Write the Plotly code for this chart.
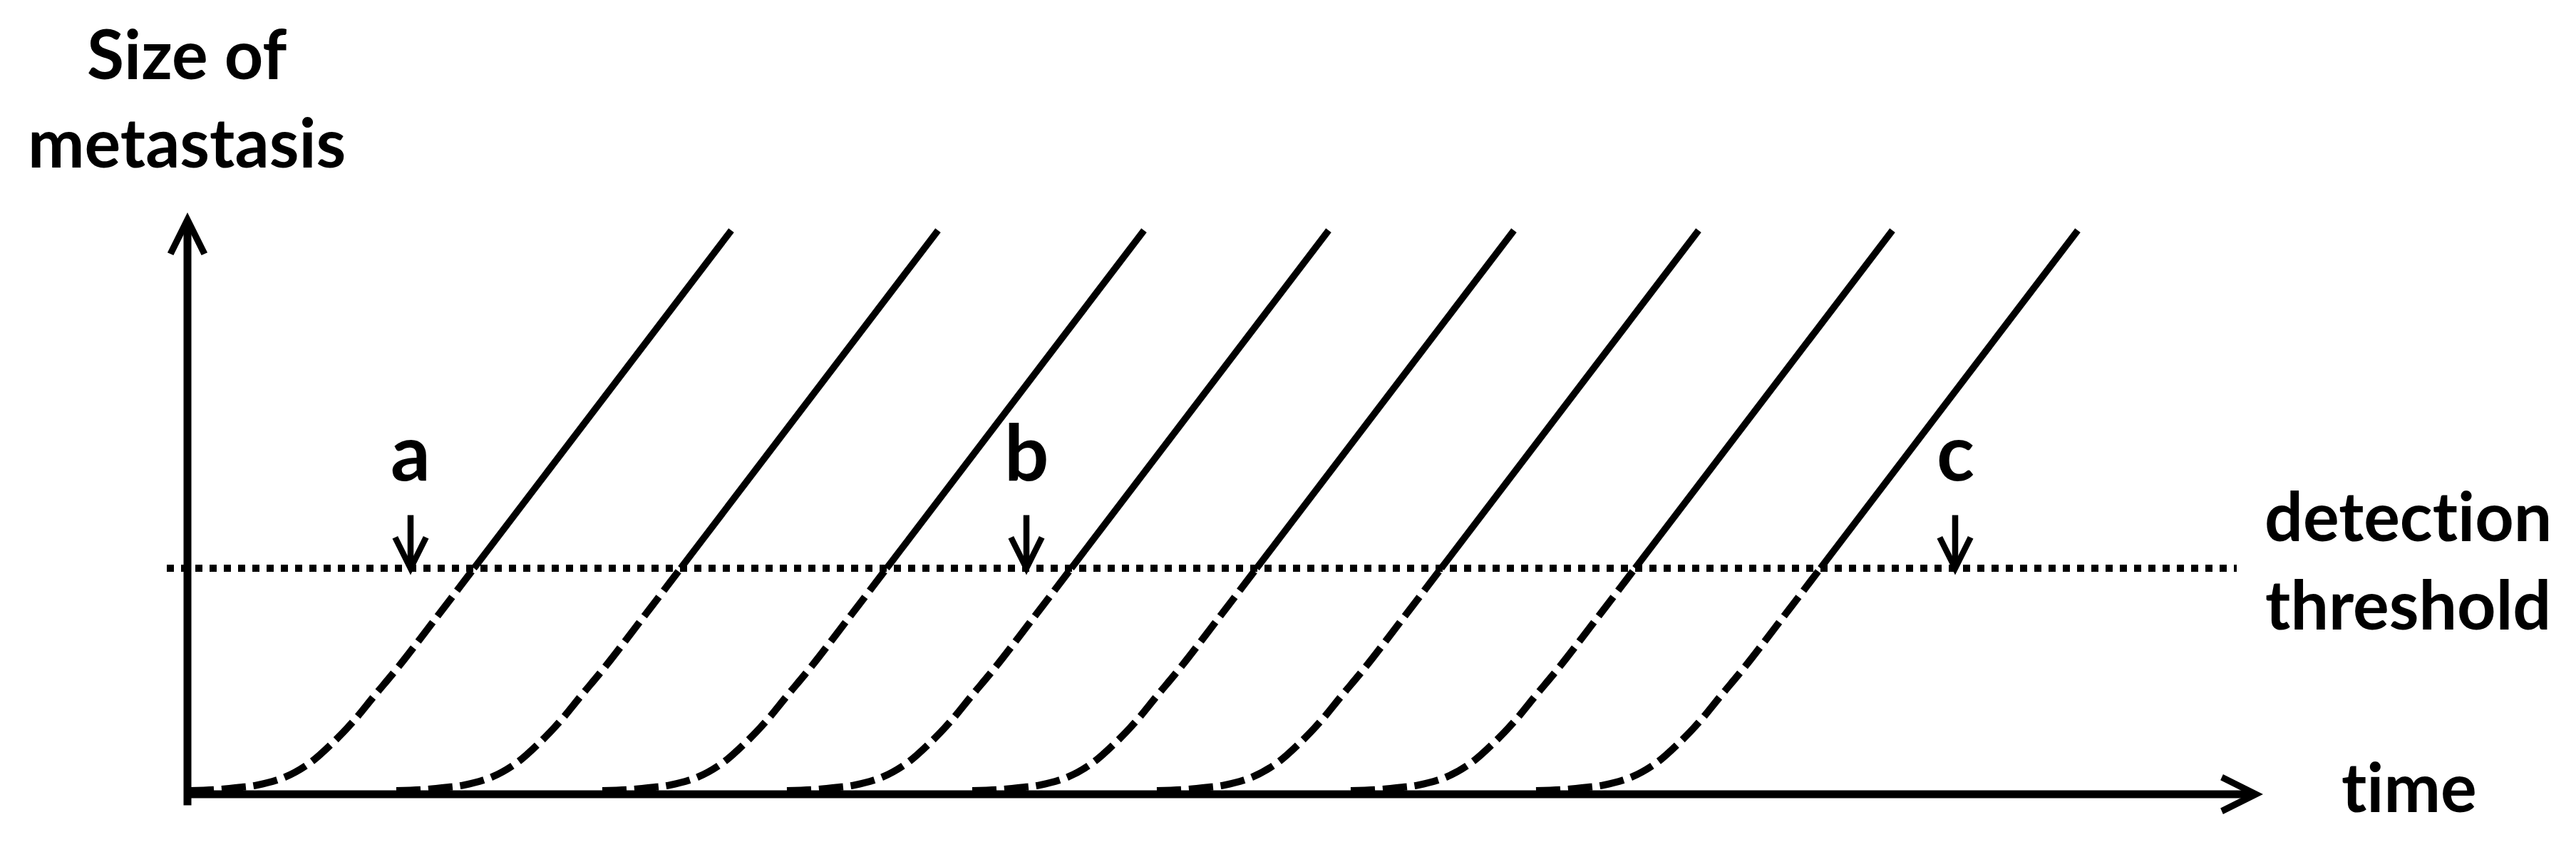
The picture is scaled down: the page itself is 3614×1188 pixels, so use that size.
import plotly.graph_objects as go

# ---- data ----
# onset time of each metastasis (time units)
onsets = [0.03, 2.93, 5.82, 8.41, 11.01, 13.60, 16.32, 18.92]
# shape of one growth curve relative to its onset
growth_dt = [0, 0.35, 0.69, 0.94, 1.34, 1.69, 2.00, 2.29, 2.59, 2.92, 3.41, 3.99, 7.60]
growth_size = [0.016, 0.02, 0.03, 0.04, 0.076, 0.139, 0.225, 0.32, 0.435, 0.56, 0.76, 1.0, 2.495]
threshold = 1.0
marker_labels = ["a", "b", "c"]
marker_times = [3.13, 11.77, 24.80]

FONT = "Lato"
BLACK = "#000000"
ZWNJ = "\u200c"  # prevents the 'ti' ligature of Lato

fig = go.Figure()

# threshold dotted line
fig.add_trace(go.Scatter(x=[-0.29, 28.75], y=[threshold, threshold], mode="lines",
                         line=dict(color=BLACK, width=10, dash="10px,10px"), hoverinfo="skip"))

for t0 in onsets:
    below = [(t0 + d, s) for d, s in zip(growth_dt, growth_size) if s <= threshold]
    above = [(t0 + d, s) for d, s in zip(growth_dt, growth_size) if s >= threshold]
    fig.add_trace(go.Scatter(x=[p[0] for p in below], y=[p[1] for p in below], mode="lines",
                             line=dict(color=BLACK, width=10, dash="34px,11px", shape="spline", smoothing=1.0),
                             hoverinfo="skip"))
    fig.add_trace(go.Scatter(x=[p[0] for p in above], y=[p[1] for p in above], mode="lines",
                             line=dict(color=BLACK, width=9.5), hoverinfo="skip"))

ann = []
# axes as arrows
ann.append(dict(x=29.12, y=0, ax=-0.05, ay=0, xref="x", yref="y", axref="x", ayref="y",
                text="", showarrow=True, arrowhead=5, arrowsize=0.85, arrowwidth=11,
                arrowcolor=BLACK, standoff=0, startstandoff=0))
ann.append(dict(x=0, y=2.574, ax=0, ay=-0.054, xref="x", yref="y", axref="x", ayref="y",
                text="", showarrow=True, arrowhead=5, arrowsize=0.85, arrowwidth=11,
                arrowcolor=BLACK, standoff=0, startstandoff=0))

# a, b, c markers
for lab, t in zip(marker_labels, marker_times):
    ann.append(dict(x=t, y=0.97, ax=t, ay=1.24, xref="x", yref="y", axref="x", ayref="y",
                    text="", showarrow=True, arrowhead=5, arrowsize=1.0, arrowwidth=8.5,
                    arrowcolor=BLACK, standoff=0, startstandoff=0))
    ann.append(dict(x=t, y=1.524, xref="x", yref="y", text=lab, showarrow=False,
                    xanchor="center", yanchor="middle",
                    font=dict(family=FONT, size=110, color=BLACK, weight=700)))

ann.append(dict(x=-0.01, y=3.085, xref="x", yref="y", text="Size of<br>metastasis",
                showarrow=False, xanchor="center", yanchor="middle", align="center",
                font=dict(family=FONT, size=95, color=BLACK, weight=700)))
ann.append(dict(x=31.15, y=1.04, xref="x", yref="y",
                text="detect" + ZWNJ + "ion<br>threshold",
                showarrow=False, xanchor="center", yanchor="middle", align="center",
                font=dict(family=FONT, size=95, color=BLACK, weight=700)))
ann.append(dict(x=31.17, y=0.038, xref="x", yref="y", text="t" + ZWNJ + "ime",
                showarrow=False, xanchor="center", yanchor="middle",
                font=dict(family=FONT, size=95, color=BLACK, weight=700)))

fig.update_layout(
    width=3614, height=1188,
    margin=dict(l=0, r=0, t=0, b=0),
    paper_bgcolor="white", plot_bgcolor="white",
    showlegend=False,
    xaxis=dict(range=[-2.55, 33.59], visible=False, fixedrange=True),
    yaxis=dict(range=[-0.2587, 3.489], visible=False, fixedrange=True),
    annotations=ann,
)

fig.write_html("out.html", config={"displayModeBar": False})
